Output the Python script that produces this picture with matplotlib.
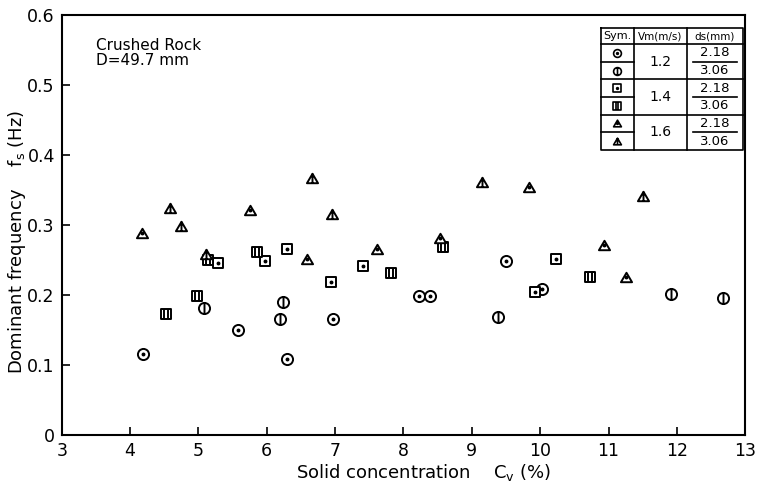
import numpy as np
import matplotlib
matplotlib.use("Agg")
import matplotlib.pyplot as plt
from matplotlib.path import Path

# Data: Cv (%) and dominant frequency fs (Hz)
# Vm = 1.2 m/s
c12_218_x = [4.19, 5.58, 6.29, 6.97, 8.23, 8.39, 9.50, 10.03]
c12_218_y = [0.116, 0.150, 0.109, 0.166, 0.199, 0.199, 0.248, 0.209]
c12_306_x = [5.08, 6.20, 6.24, 9.38, 11.92, 12.68]
c12_306_y = [0.182, 0.166, 0.190, 0.168, 0.202, 0.195]
# Vm = 1.4 m/s
c14_218_x = [5.28, 5.97, 6.30, 6.94, 7.41, 9.93, 10.23]
c14_218_y = [0.245, 0.248, 0.265, 0.218, 0.241, 0.204, 0.251]
c14_306_x = [4.52, 4.98, 5.14, 5.85, 7.82, 8.58, 10.73]
c14_306_y = [0.173, 0.199, 0.250, 0.262, 0.231, 0.268, 0.226]
# Vm = 1.6 m/s
c16_218_x = [4.18, 5.75, 6.59, 7.61, 8.53, 9.84, 10.94, 11.26]
c16_218_y = [0.288, 0.322, 0.252, 0.265, 0.282, 0.355, 0.272, 0.225]
c16_306_x = [4.58, 4.74, 5.11, 6.66, 6.95, 9.15, 11.50]
c16_306_y = [0.324, 0.298, 0.259, 0.367, 0.315, 0.362, 0.342]

vm_labels = ["1.2", "1.4", "1.6"]
ds_labels = ["2.18", "3.06"]

# marker shapes
def vline(x0, y0, y1):
    return Path([(x0, y0), (x0, y1)], [Path.MOVETO, Path.LINETO])

circle = Path.unit_circle()
square = Path([(-1, -1), (1, -1), (1, 1), (-1, 1), (-1, -1)],
              [Path.MOVETO] + [Path.LINETO] * 3 + [Path.CLOSEPOLY])
tri = Path([(0, 0.85), (-1, -0.85), (1, -0.85), (0, 0.85)],
           [Path.MOVETO, Path.LINETO, Path.LINETO, Path.CLOSEPOLY])

circle_line = Path.make_compound_path(circle, vline(0, -1, 1))
square_line = Path.make_compound_path(square, vline(-0.3, -1, 1), vline(0.3, -1, 1))
tri_line = Path.make_compound_path(tri, vline(0, -0.85, 0.85))

series = [
    (c12_218_x, c12_218_y, circle, True, 8),
    (c12_306_x, c12_306_y, circle_line, False, 8),
    (c14_218_x, c14_218_y, square, True, 7.5),
    (c14_306_x, c14_306_y, square_line, False, 7.5),
    (c16_218_x, c16_218_y, tri, True, 8),
    (c16_306_x, c16_306_y, tri_line, False, 8),
]

fig = plt.figure(figsize=(7.62, 4.87), dpi=100)
ax = fig.add_axes([0.081, 0.107, 0.897, 0.862])

for x, y, mk, dot, ms in series:
    ax.plot(x, y, linestyle="none", marker=mk, markersize=ms,
            markerfacecolor="white", markeredgecolor="black", markeredgewidth=1.4)
    if dot:
        ax.plot(x, y, linestyle="none", marker="o", markersize=1.8,
                markerfacecolor="black", markeredgecolor="black")

ax.set_xlim(3, 13)
ax.set_ylim(0, 0.6)
ax.set_xticks(range(3, 14))
ax.set_yticks([0, 0.1, 0.2, 0.3, 0.4, 0.5, 0.6])
ax.set_yticklabels(["0", "0.1", "0.2", "0.3", "0.4", "0.5", "0.6"])
ax.tick_params(direction="in", length=6, width=1.2, labelsize=12.5, pad=5)
for s in ax.spines.values():
    s.set_linewidth(1.5)

ax.set_xlabel(r"Solid concentration    C$_\mathrm{v}$ (%)", fontsize=13)
ax.set_ylabel(r"Dominant frequency    f$_\mathrm{s}$ (Hz)", fontsize=13)
ax.yaxis.set_label_coords(-0.05, 0.46)
ax.xaxis.set_label_coords(0.53, -0.065)

ax.text(0.05, 0.945, "Crushed Rock\nD=49.7 mm", transform=ax.transAxes,
        fontsize=11, va="top", ha="left", linespacing=1.0)

# legend table
tx0, tx1, tx2, tx3 = 0.789, 0.837, 0.915, 0.996
ty_top, ty_head = 0.969, 0.931
rh = 0.042
tk = dict(transform=ax.transAxes, color="black", lw=1.2, clip_on=False)
ax.plot([tx0, tx3, tx3, tx0, tx0],
        [ty_top, ty_top, ty_head - 6 * rh, ty_head - 6 * rh, ty_top], **tk)
ax.plot([tx0, tx3], [ty_head, ty_head], **tk)
for xc in (tx1, tx2):
    ax.plot([xc, xc], [ty_top, ty_head - 6 * rh], **tk)
for i in range(1, 6):
    yb = ty_head - i * rh
    if i % 2 == 0:
        ax.plot([tx0, tx3], [yb, yb], **tk)
    else:
        ax.plot([tx0, tx1], [yb, yb], **tk)
        ax.plot([tx2 + 0.008, tx3 - 0.008], [yb, yb], **tk)

hy = (ty_top + ty_head) / 2
ax.text((tx0 + tx1) / 2, hy, "Sym.", transform=ax.transAxes, ha="center", va="center", fontsize=8)
ax.text((tx1 + tx2) / 2, hy, r"Vm(m/s)", transform=ax.transAxes, ha="center", va="center", fontsize=7.5)
ax.text((tx2 + tx3) / 2, hy, "ds(mm)", transform=ax.transAxes, ha="center", va="center", fontsize=7.5)

for i, (x, y, mk, dot, ms) in enumerate(series):
    yc = ty_head - (i + 0.5) * rh
    xc = (tx0 + tx1) / 2
    ax.plot([xc], [yc], transform=ax.transAxes, linestyle="none", marker=mk,
            markersize=ms * 0.7, markerfacecolor="white", markeredgecolor="black",
            markeredgewidth=1.2, clip_on=False)
    if dot:
        ax.plot([xc], [yc], transform=ax.transAxes, linestyle="none", marker="o",
                markersize=1.4, color="black", clip_on=False)
    ax.text((tx2 + tx3) / 2, yc, ds_labels[i % 2], transform=ax.transAxes,
            ha="center", va="center", fontsize=9.5)

for j, v in enumerate(vm_labels):
    ax.text((tx1 + tx2) / 2, ty_head - (2 * j + 1) * rh, v, transform=ax.transAxes,
            ha="center", va="center", fontsize=10)

fig.savefig("out.png", dpi=100)
